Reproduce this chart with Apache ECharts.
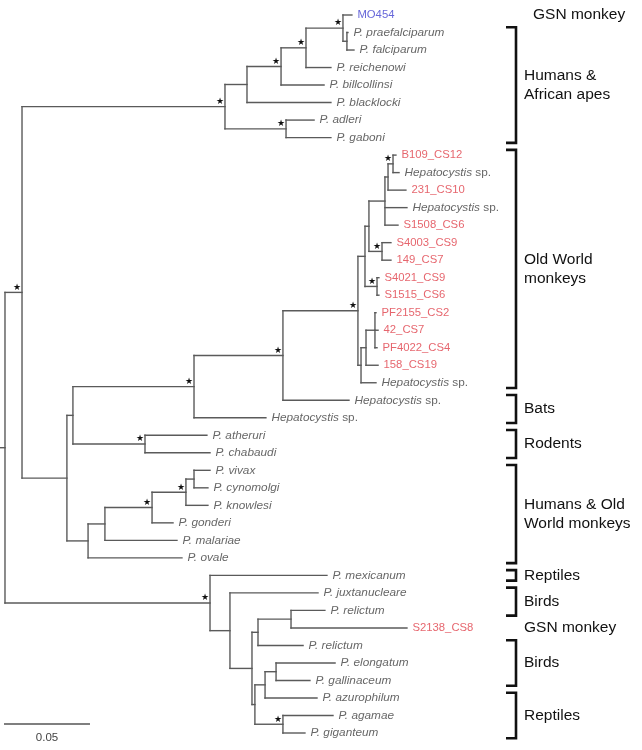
<!DOCTYPE html>
<html><head><meta charset="utf-8">
<script src="https://cdn.jsdelivr.net/npm/echarts@6/dist/echarts.min.js"></script>
<style>html,body{margin:0;padding:0;background:#fff}#chart{width:642px;height:750px}</style>
</head><body><div id="chart"></div>
<script>
// ---------- DATA ----------
// Tips, top to bottom
const tipLabels = ['MO454','P. praefalciparum','P. falciparum','P. reichenowi','P. billcollinsi','P. blacklocki','P. adleri','P. gaboni',
  'B109_CS12','Hepatocystis sp.','231_CS10','Hepatocystis sp.','S1508_CS6','S4003_CS9','149_CS7','S4021_CS9','S1515_CS6',
  'PF2155_CS2','42_CS7','PF4022_CS4','158_CS19','Hepatocystis sp.','Hepatocystis sp.','Hepatocystis sp.',
  'P. atheruri','P. chabaudi','P. vivax','P. cynomolgi','P. knowlesi','P. gonderi','P. malariae','P. ovale',
  'P. mexicanum','P. juxtanucleare','P. relictum','S2138_CS8','P. relictum','P. elongatum','P. gallinaceum','P. azurophilum','P. agamae','P. giganteum'];
const tipKinds = ['blue','sp','sp','sp','sp','sp','sp','sp',
  'red','hep','red','hep','red','red','red','red','red',
  'red','red','red','red','hep','hep','hep',
  'sp','sp','sp','sp','sp','sp','sp','sp',
  'sp','sp','sp','red','sp','sp','sp','sp','sp','sp'];
const tipParents = ['Nmo','Nfal','Nfal','X1','X2','B1','B2','B2',
  'U1','U1','U2','U4','U4','V1','V1','V2','V2',
  'Y2','Y2','Y2','Y3','Y4','G','F',
  'R','R','E4','E4','E3','E2','E1','E',
  'S','S1','S5','S5','S3','S8','S8','S6','S7','S7'];
// distance from root (substitutions/site)
const tipDepths = [0.2017,0.1994,0.2029,0.1895,0.1855,0.1895,0.1797,0.1895,
  0.2273,0.2291,0.2331,0.2337,0.2285,0.2244,0.2244,0.2174,0.2174,
  0.2157,0.2169,0.2163,0.2169,0.2157,0.2000,0.1517,
  0.1174,0.1192,0.1192,0.1180,0.1180,0.0977,0.1000,0.1029,
  0.1872,0.1820,0.1860,0.2337,0.1733,0.1919,0.1773,0.1814,0.1907,0.1744];
// Internal nodes
const innerNames   = ['root','A','B','B1','X2','X1','Nmo','Nfal','B2','C','D','F','G','H','W2','W1','U4','U2','U1','V1','V2','Y4','Y3','Y2','R','E','E1','E2','E3','E4','S','S1','S2','S3','S5','S4','S6','S8','S7'];
const innerParents = [null,'root','A','B','B1','X2','X1','Nmo','B','A','C','D','F','G','H','W2','W1','U4','U2','W1','W2','H','Y4','Y3','D','C','E','E1','E2','E3','root','S','S1','S2','S3','S2','S4','S6','S4'];
const innerDepths  = [0,0.0099,0.1279,0.1407,0.1605,0.1750,0.1965,0.1988,0.1634,0.0360,0.0395,0.1099,0.1616,0.2052,0.2093,0.2116,0.2209,0.2227,0.2256,0.2192,0.2163,0.2070,0.2099,0.2151,0.0814,0.0483,0.0581,0.0855,0.1052,0.1099,0.1192,0.1308,0.1436,0.1471,0.1663,0.1453,0.1512,0.1576,0.1616];
const rootStem = 0.0029;
// nodes with strong support (star)
const supportedNodes = ['A','B','X2','X1','Nmo','B2','U1','V1','V2','H','G','F','R','E2','E3','S','S7'];
// host groups on the right
const groupLabels = ['GSN monkey','Humans &\nAfrican apes','Old World\nmonkeys','Bats','Rodents','Humans & Old\nWorld monkeys','Reptiles','Birds','GSN monkey','Birds','Reptiles'];
const groupFirstTip = [0,1,8,22,24,26,32,33,35,36,39];
const groupLastTip  = [0,7,21,23,25,31,32,34,35,38,41];
const groupHasBracket = [false,true,true,true,true,true,true,true,false,true,true];
const scaleBarLength = 0.05;
const scaleBarLabel = '0.05';

// ---------- BUILD ----------
const depth = {}, parent = {}, children = {}, yPos = {};
innerNames.forEach((n,i)=>{depth[n]=innerDepths[i]; parent[n]=innerParents[i]; children[n]=[];});
tipLabels.forEach((t,i)=>{const id='t'+i; depth[id]=tipDepths[i]; parent[id]=tipParents[i]; yPos[id]=i;});
Object.keys(parent).forEach(id=>{ if(parent[id]) children[parent[id]].push(id); });
function calcY(n){ if(yPos[n]!==undefined) return yPos[n];
  const ys = children[n].map(calcY); yPos[n]=(Math.min(...ys)+Math.max(...ys))/2; return yPos[n]; }
calcY('root');

const segs = [];
Object.keys(parent).forEach(id=>{
  if(parent[id]) segs.push([depth[parent[id]], yPos[id], depth[id], yPos[id]]);
});
innerNames.forEach(n=>{
  const ys = children[n].map(c=>yPos[c]);
  segs.push([depth[n], Math.min(...ys), depth[n], Math.max(...ys)]);
});
segs.push([-rootStem, yPos['root'], 0, yPos['root']]);

const tipData = tipLabels.map((t,i)=>[tipDepths[i], i]);
const starData = supportedNodes.map(n=>[depth[n], yPos[n]]);
const groupData = groupLabels.map((g,i)=>[groupFirstTip[i], groupLastTip[i], i]);

const FONT = '"Liberation Sans", Arial, Helvetica, sans-serif';
const PX_PER_UNIT = 1720;
const W = 642;

function fmtTip(i){
  const t = tipLabels[i], k = tipKinds[i];
  if(k==='red') return '{r|'+t+'}';
  if(k==='blue') return '{b|'+t+'}';
  if(k==='hep'){ const p=t.split(' '); return '{i|'+p[0]+'}{n| '+p.slice(1).join(' ')+'}'; }
  return '{i|'+t+'}';
}

const chart = echarts.init(document.getElementById('chart'), null, {renderer:'canvas'});
const xMin = -rootStem;
chart.setOption({
  animation:false,
  backgroundColor:'#fff',
  grid:{left:0, top:15, width:W, height:718},
  xAxis:{type:'value', min:xMin, max:xMin + W/PX_PER_UNIT, show:false},
  yAxis:{type:'value', min:0, max:41, inverse:true, show:false},
  series:[
    { type:'custom', clip:false, data:segs, encode:{x:[0,2], y:[1,3]},
      renderItem:(params, api)=>{
        const p1 = api.coord([api.value(0), api.value(1)]);
        const p2 = api.coord([api.value(2), api.value(3)]);
        return {type:'line', shape:{x1:p1[0],y1:p1[1],x2:p2[0],y2:p2[1]},
          style:{stroke:'#5a5a5a', lineWidth:1.4, lineCap:'square'}};
      }},
    { type:'scatter', data:tipData, symbolSize:1, itemStyle:{color:'rgba(0,0,0,0)'}, silent:true,
      label:{show:true, position:'right', distance:5,
        formatter:p=>fmtTip(p.dataIndex),
        rich:{
          i:{fontFamily:FONT, fontStyle:'italic', fontSize:11.8, color:'#404040'},
          n:{fontFamily:FONT, fontSize:11.8, color:'#404040'},
          r:{fontFamily:FONT, fontSize:11.3, color:'#e0404a'},
          b:{fontFamily:FONT, fontSize:11.3, color:'#4040d0'}
        }}},
    { type:'custom', clip:false, data:starData,
      renderItem:(params, api)=>{
        const p = api.coord([api.value(0), api.value(1)]);
        return {type:'text', x:p[0]-5, y:p[1]-5,
          style:{text:'★', fontSize:9, fontFamily:'DejaVu Sans', fill:'#111', align:'center', verticalAlign:'middle'}};
      }},
    { type:'custom', clip:false, data:groupData,
      renderItem:(params, api)=>{
        const i = api.value(2);
        const y1 = api.coord([0, api.value(0)-0.3])[1];
        const y2 = api.coord([0, api.value(1)+0.3])[1];
        const yc = api.coord([0, (api.value(0)+api.value(1))/2])[1];
        const kids = [];
        if(groupHasBracket[i]){
          kids.push({type:'polyline', shape:{points:[[506,y1],[516,y1],[516,y2],[506,y2]]},
            style:{stroke:'#111', lineWidth:2.6, fill:null}});
        }
        kids.push({type:'text', x: (i===0 ? 533 : 524), y: yc,
          style:{text:groupLabels[i], fontFamily:FONT, fontSize:15.5, lineHeight:19, fill:'#111', align:'left', verticalAlign:'middle'}});
        return {type:'group', children:kids};
      }},
    { type:'custom', clip:false, data:[[0, scaleBarLength]],
      renderItem:(params, api)=>{
        const x1 = api.coord([api.value(0), 0])[0] - 1;
        const x2 = api.coord([api.value(1), 0])[0] - 1;
        return {type:'group', children:[
          {type:'line', shape:{x1:x1,y1:724,x2:x2,y2:724}, style:{stroke:'#555', lineWidth:1.4}},
          {type:'text', x:(x1+x2)/2, y:738, style:{text:scaleBarLabel, fontFamily:FONT, fontSize:11.5, fill:'#444', align:'center', verticalAlign:'middle'}}
        ]};
      }}
  ]
});
</script></body></html>
